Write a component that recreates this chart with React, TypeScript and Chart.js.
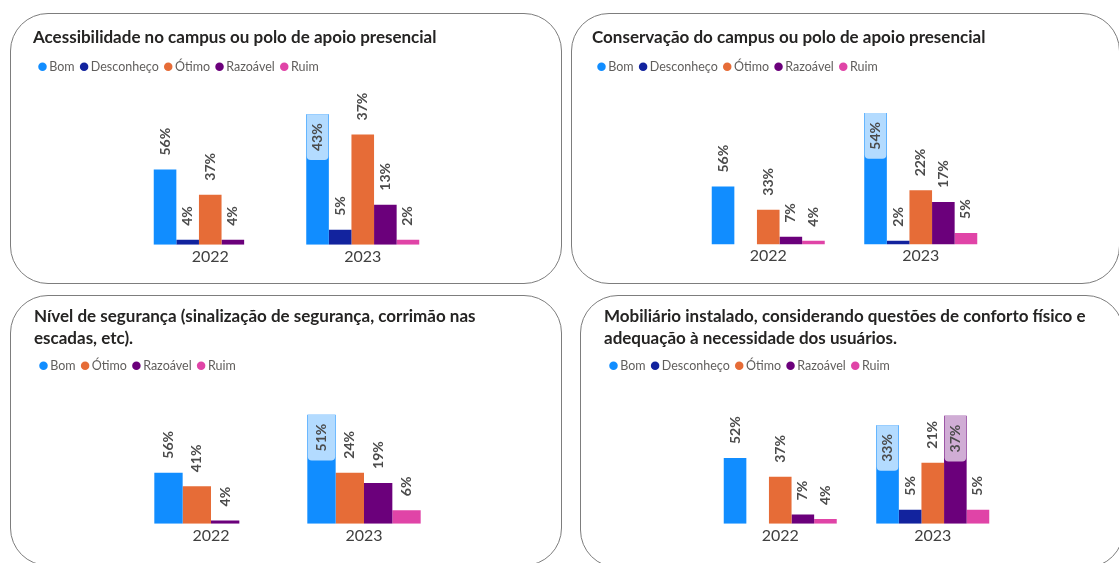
import React, { useEffect, useRef } from 'react';
import { Chart, registerables } from 'chart.js';

Chart.register(...registerables);

// ---------- data ----------
const YEARS = ['2022', '2023'];

const SERIES_COLORS: Record<string, string> = {
  'Bom': '#118DFF',
  'Desconheço': '#12239E',
  'Ótimo': '#E66C37',
  'Razoável': '#6B007B',
  'Ruim': '#E044A7',
};

// Panel 1
const P1_TITLE = ['Acessibilidade no campus ou polo de apoio presencial'];
const P1_SERIES = ['Bom', 'Desconheço', 'Ótimo', 'Razoável', 'Ruim'];
const P1_COUNTS_2022 = [15, 1, 10, 1, null];
const P1_COUNTS_2023 = [26, 3, 22, 8, 1];
const P1_PCT_2022 = [56, 4, 37, 4, null];
const P1_PCT_2023 = [43, 5, 37, 13, 2];

// Panel 2
const P2_TITLE = ['Conservação do campus ou polo de apoio presencial'];
const P2_SERIES = ['Bom', 'Desconheço', 'Ótimo', 'Razoável', 'Ruim'];
const P2_COUNTS_2022 = [15, null, 9, 2, 1];
const P2_COUNTS_2023 = [34, 1, 14, 11, 3];
const P2_PCT_2022 = [56, null, 33, 7, 4];
const P2_PCT_2023 = [54, 2, 22, 17, 5];

// Panel 3
const P3_TITLE = ['Nível de segurança (sinalização de segurança, corrimão nas', 'escadas, etc).'];
const P3_SERIES = ['Bom', 'Ótimo', 'Razoável', 'Ruim'];
const P3_COUNTS_2022 = [15, 11, 1, null];
const P3_COUNTS_2023 = [32, 15, 12, 4];
const P3_PCT_2022 = [56, 41, 4, null];
const P3_PCT_2023 = [51, 24, 19, 6];

// Panel 4
const P4_TITLE = ['Mobiliário instalado, considerando questões de conforto físico e', 'adequação à necessidade dos usuários.'];
const P4_SERIES = ['Bom', 'Desconheço', 'Ótimo', 'Razoável', 'Ruim'];
const P4_COUNTS_2022 = [14, null, 10, 2, 1];
const P4_COUNTS_2023 = [21, 3, 13, 23, 3];
const P4_PCT_2022 = [52, null, 37, 7, 4];
const P4_PCT_2023 = [33, 5, 21, 37, 5];

// ---------- layout / style ----------
const FONT = 'Lato, "DejaVu Sans", sans-serif';
const LABEL_COLOR = '#4B4B4B';
const LABEL_FONT = `bold 14px ${FONT}`;
const LABEL_GAP = 14;

type PanelLayout = {
  left: number; top: number; width: number; height: number;
  padL: number; padR: number; axisL: number; axisR: number;
  titleTop: number; titleBottom: number; padBottom: number; grace: number;
};

const LAYOUTS: PanelLayout[] = [
  { left: 10, top: 13, width: 552, height: 271, padL: 23, padR: 24, axisL: 101, axisR: 99, titleTop: 13, titleBottom: 3.35, padBottom: 16, grace: 0.2407 },
  { left: 571, top: 13, width: 549, height: 271, padL: 21, padR: 24, axisL: 100, axisR: 99, titleTop: 13, titleBottom: 3.35, padBottom: 16.3, grace: 0.2288 },
  { left: 10, top: 295, width: 552, height: 271, padL: 24, padR: 24, axisL: 100.5, axisR: 97.5, titleTop: 10.6, titleBottom: 0.65, padBottom: 19, grace: 0.3004 },
  { left: 580, top: 295, width: 544, height: 273, padL: 24, padR: 24, axisL: 100, axisR: 91, titleTop: 10.6, titleBottom: 0.65, padBottom: 21, grace: 0.3126 },
];

type PanelData = {
  title: string[];
  series: string[];
  counts: (number | null)[][]; // by year
  pcts: (number | null)[][]; // by year
};

const PANELS: PanelData[] = [
  { title: P1_TITLE, series: P1_SERIES, counts: [P1_COUNTS_2022, P1_COUNTS_2023], pcts: [P1_PCT_2022, P1_PCT_2023] },
  { title: P2_TITLE, series: P2_SERIES, counts: [P2_COUNTS_2022, P2_COUNTS_2023], pcts: [P2_PCT_2022, P2_PCT_2023] },
  { title: P3_TITLE, series: P3_SERIES, counts: [P3_COUNTS_2022, P3_COUNTS_2023], pcts: [P3_PCT_2022, P3_PCT_2023] },
  { title: P4_TITLE, series: P4_SERIES, counts: [P4_COUNTS_2022, P4_COUNTS_2023], pcts: [P4_PCT_2022, P4_PCT_2023] },
];

function tint(hex: string, amount: number): string {
  const h = hex.replace('#', '');
  const r = parseInt(h.slice(0, 2), 16);
  const g = parseInt(h.slice(2, 4), 16);
  const b = parseInt(h.slice(4, 6), 16);
  const m = (c: number) => Math.round(c + (255 - c) * amount);
  return `rgb(${m(r)},${m(g)},${m(b)})`;
}

function makeLabelPlugin(pctsBySeries: (number | null)[][]) {
  return {
    id: 'valueLabels',
    afterDatasetsDraw(chart: any) {
      const { ctx, chartArea } = chart;
      ctx.save();
      ctx.font = LABEL_FONT;
      chart.data.datasets.forEach((ds: any, di: number) => {
        const meta = chart.getDatasetMeta(di);
        if (meta.hidden) return;
        meta.data.forEach((bar: any, i: number) => {
          const pct = pctsBySeries[di][i];
          if (pct == null) return;
          const { x, y, width } = bar.getProps(['x', 'y', 'width'], true);
          const text = `${pct}%`;
          const len = ctx.measureText(text).width;
          const outsideTop = y - LABEL_GAP - len;
          if (outsideTop >= chartArea.top + 6) {
            ctx.save();
            ctx.translate(x, y - LABEL_GAP);
            ctx.rotate(-Math.PI / 2);
            ctx.textAlign = 'left';
            ctx.textBaseline = 'middle';
            ctx.fillStyle = LABEL_COLOR;
            ctx.fillText(text, 0, 0);
            ctx.restore();
          } else {
            const boxH = len + 18;
            ctx.fillStyle = tint(ds.backgroundColor, 0.68);
            ctx.beginPath();
            if (ctx.roundRect) ctx.roundRect(x - width / 2 + 0.5, y, width - 1, boxH, [0, 0, 4, 4]);
            else ctx.rect(x - width / 2 + 0.5, y, width - 1, boxH);
            ctx.fill();
            ctx.save();
            ctx.translate(x, y + 9);
            ctx.rotate(-Math.PI / 2);
            ctx.textAlign = 'right';
            ctx.textBaseline = 'middle';
            ctx.fillStyle = LABEL_COLOR;
            ctx.fillText(text, 0, 0);
            ctx.restore();
          }
        });
      });
      ctx.restore();
    },
  };
}

function Panel({ data, layout }: { data: PanelData; layout: PanelLayout }) {
  const ref = useRef<HTMLCanvasElement | null>(null);

  useEffect(() => {
    if (!ref.current) return;
    const datasets = data.series.map((name, k) => ({
      label: name,
      data: YEARS.map((_, yi) => data.counts[yi][k]),
      backgroundColor: SERIES_COLORS[name],
      borderWidth: 0,
      categoryPercentage: 0.741,
      barPercentage: 1.0,
    }));
    const pctsBySeries = data.series.map((_, k) => YEARS.map((__, yi) => data.pcts[yi][k]));
    const allCounts = data.counts.flat().filter((v) => v != null) as number[];
    const maxCount = Math.max(...allCounts);

    const chart = new Chart(ref.current, {
      type: 'bar',
      data: { labels: YEARS, datasets },
      options: {
        animation: false,
        responsive: false,
        maintainAspectRatio: false,
        layout: { padding: { left: layout.padL, right: layout.padR, top: 0, bottom: layout.padBottom } },
        plugins: {
          title: {
            display: true,
            text: data.title,
            align: 'start',
            color: '#252423',
            font: { family: FONT, size: 17, weight: 'bold', lineHeight: 1.3 },
            padding: { top: layout.titleTop, bottom: layout.titleBottom },
          },
          legend: {
            display: true,
            position: 'top',
            align: 'start',
            labels: {
              usePointStyle: true,
              pointStyle: 'circle',
              boxWidth: 1,
              boxHeight: 6,
              padding: 9,
              color: '#605E5C',
              font: { family: FONT, size: 12.5 },
            },
          },
          tooltip: { enabled: false },
        },
        scales: {
          x: {
            grid: { display: false, drawTicks: false },
            border: { display: false },
            ticks: { padding: 2, color: '#404040', font: { family: FONT, size: 16 } },
          },
          y: {
            display: true,
            min: 0,
            max: maxCount * (1 + layout.grace),
            grid: { display: false, drawTicks: false },
            border: { display: false },
            ticks: { display: false },
            afterFit: (s: any) => { s.width = layout.axisL; },
          },
          yR: {
            display: true,
            position: 'right',
            grid: { display: false, drawTicks: false },
            border: { display: false },
            ticks: { display: false },
            afterFit: (s: any) => { s.width = layout.axisR; },
          },
        },
      } as any,
      plugins: [makeLabelPlugin(pctsBySeries)],
    });
    return () => chart.destroy();
  }, [data, layout]);

  return (
    <>
      <div
        style={{
          position: 'absolute',
          left: layout.left,
          top: layout.top,
          width: layout.width,
          height: layout.height,
          boxSizing: 'border-box',
          border: '1px solid #7d7d7d',
          borderRadius: 38,
        }}
      />
      <canvas
        ref={ref}
        width={layout.width}
        height={layout.height}
        style={{ position: 'absolute', left: layout.left, top: layout.top, width: layout.width, height: layout.height }}
      />
    </>
  );
}

export default function App() {
  return (
    <div
      style={{
        position: 'fixed',
        left: 0,
        top: 0,
        width: 1119,
        height: 563,
        overflow: 'hidden',
        background: '#ffffff',
      }}
    >
      {PANELS.map((p, i) => (
        <Panel key={i} data={p} layout={LAYOUTS[i]} />
      ))}
    </div>
  );
}
